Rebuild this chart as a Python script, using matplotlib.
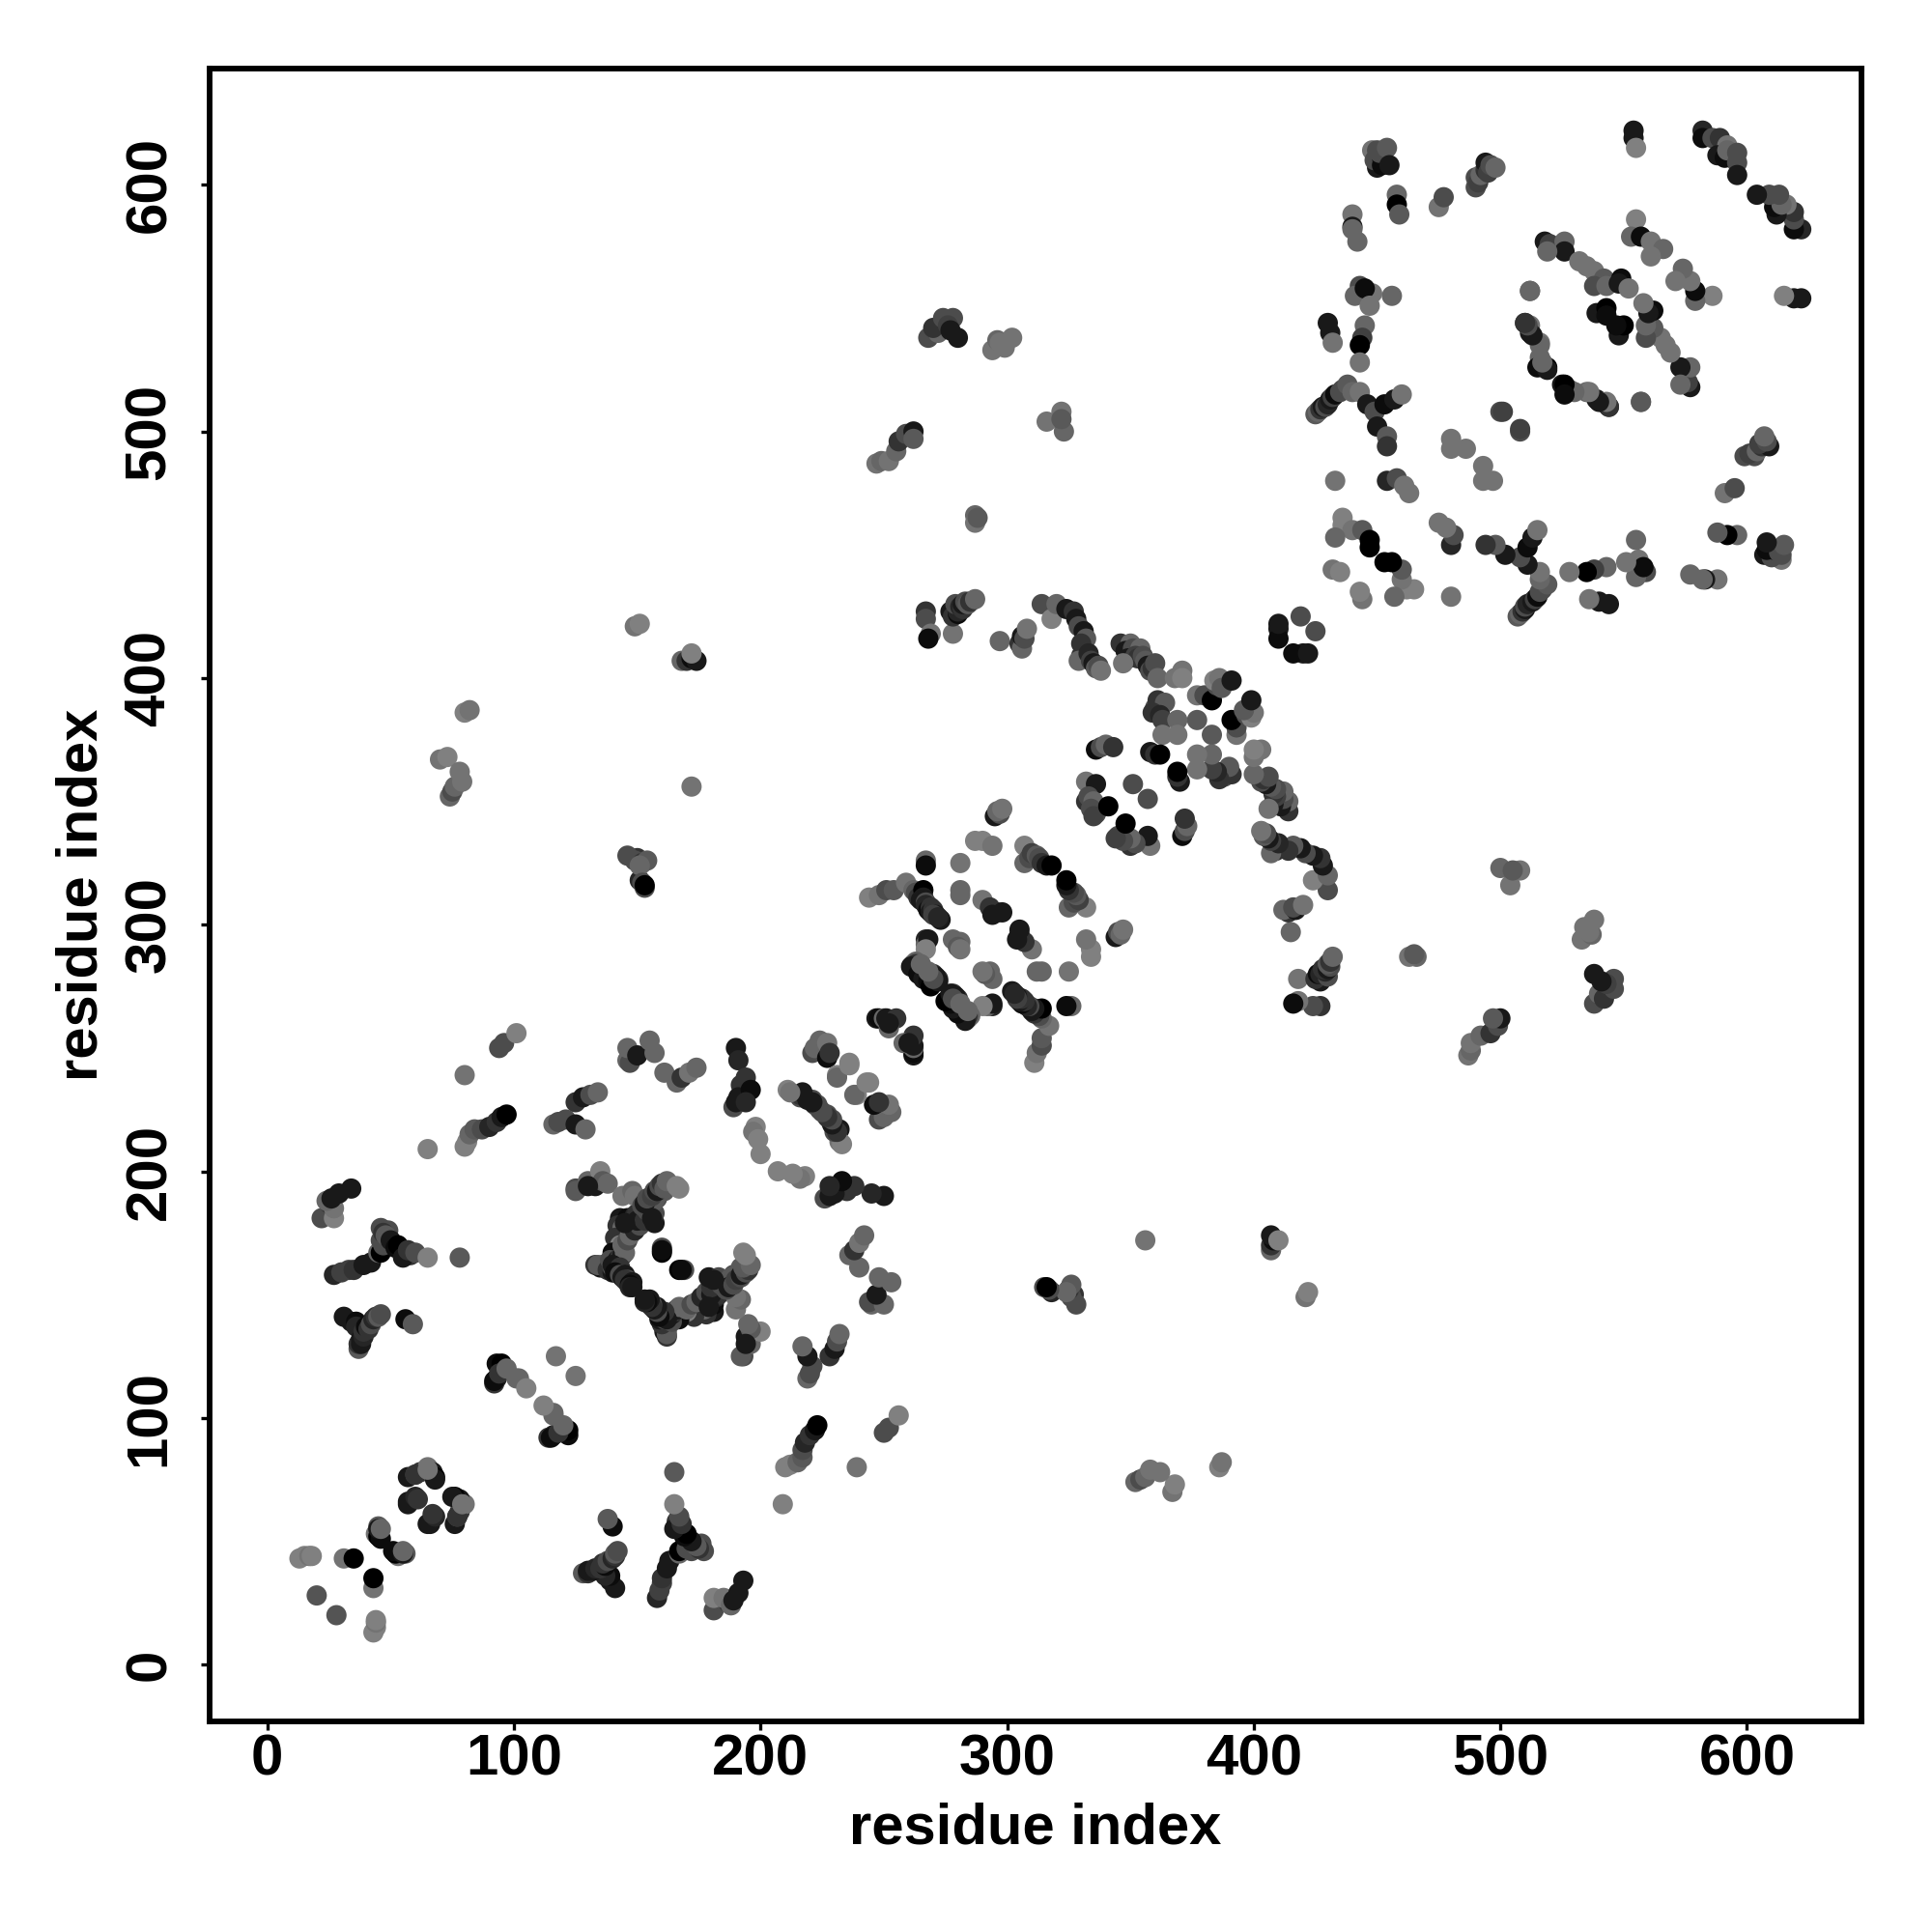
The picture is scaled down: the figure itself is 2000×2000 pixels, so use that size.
#!/usr/bin/env python3
"""Residue contact map: symmetric, so each contact (i, j, shade) is listed once with i < j."""

import matplotlib
matplotlib.use("Agg")
import matplotlib.pyplot as plt

plt.rcParams['font.family'] = ['Liberation Sans', 'DejaVu Sans']

tick_values = [0, 100, 200, 300, 400, 500, 600]

# (residue i, residue j, grey level of the dot)
contacts_low = [
    (13, 43, .5), (15, 44, .5), (17, 44, .45), (18, 44, .5), (20, 28, .33), (31, 43, .45), (35, 43, 0),
    (44, 53, .45), (45, 56, .35), (45, 52, 0), (46, 51, .05), (45, 55, .1), (46, 55, .4),
    (57, 76, .1), (60, 77, .3), (62, 78, .2), (65, 80, .45), (66, 78, .3), (67, 78, .1), (68, 76, 0),
    (57, 66, .1), (57, 65, .1), (60, 68, .15), (61, 67, .2), (68, 75, .1), (60, 77, .2), (65, 79, .45),
    (34, 139, .1), (31, 141, .1), (36, 139, .05), (36, 137, .15), (37, 128, .35), (37, 130, .2), (38, 130, .1),
    (38, 132, .1), (39, 133, .15), (39, 135, .2), (40, 137, .05), (41, 136, .2), (42, 138, .3),
    (43, 140, .15), (44, 141, .2), (45, 141, .35), (46, 142, .3), (56, 140, .05), (59, 138, .35),
    (93, 122, .05), (95, 122, 0), (93, 116, .1), (92, 114, .2), (92, 115, .05), (94, 118, .2),
    (97, 120, .4), (102, 116, .4), (101, 116, .4), (105, 112, .5), (117, 125, .45),
]

contacts_helix_a = [
    (22, 181, .3), (27, 181, .5), (25, 187, .2), (27, 185, .45), (24, 188, .4), (26, 189, .1), (29, 191, .1), (34, 193, .1),
    (27, 158, .15), (30, 159, .25), (33, 160, .25), (35, 160, .2), (39, 162, .1), (42, 163, .1),
    (45, 167, .4), (46, 167, 0), (46, 172, .3), (46, 177, .3), (49, 176, .3), (47, 170, .3),
    (47, 175, .2), (48, 174, .35), (50, 172, .1), (52, 169, .05), (56, 166, 0), (58, 166, .2),
    (53, 170, 0), (55, 165, .1), (57, 168, .2), (60, 167, .3), (65, 165, .5), (78, 165, .35),
    (65, 209, .5), (80, 210, .5), (81, 212, .5), (82, 215, .4), (84, 217, .35), (87, 217, .3),
    (90, 218, .15), (93, 220, .2), (95, 222, .1), (97, 223, 0),
    (94, 250, .3), (96, 252, .3), (101, 256, .5), (80, 239, .45),
    (116, 219, .4), (118, 220, .3), (121, 221, .3), (125, 219, .1), (129, 217, .4),
    (125, 228, .2), (128, 230, .1), (131, 231, .3), (134, 232, .4),
    (125, 193, .3), (130, 196, .4), (133, 194, .1), (135, 200, .5), (136, 196, .35), (138, 195, .4),
    (125, 192, .35), (130, 194, .1),
    (133, 162, .2), (135, 161, .1), (136, 162, .3), (134, 162, .35), (138, 160, .2), (140, 159, .1), (140, 161, .3),
]

contacts_helix_b = [
    (143, 181, .1), (146, 181, .05), (149, 182, .15), (150, 183, .2), (142, 178, .2), (144, 177, .4), (147, 178, .1),
    (141, 173, .2), (143, 170, .5), (140, 167, .05), (141, 166, .05), (139, 164, .3), (142, 164, .1),
    (143, 165, .2), (144, 166, .1), (145, 167, .4), (141, 161, .15), (140, 162, .1), (143, 161, .2),
    (141, 159, .05), (143, 158, .3), (144, 157, .1), (145, 158, .1), (146, 156, .3), (145, 156, .2),
    (146, 155, .2), (148, 155, .1), (147, 154, .05), (147, 153, .15), (148, 153, .1),
    (144, 170, .4), (146, 172, .3), (147, 174, .4), (148, 176, .4), (149, 176, .15), (151, 178, .3),
    (150, 180, .1), (153, 180, .2), (145, 179, .1), (154, 184, .3), (155, 186, .35), (156, 187, .2),
    (157, 179, .1), (157, 183, .3), (158, 189, .3), (159, 191, .35),
    (157, 188, .35), (161, 192, .35), (144, 190, .45), (148, 192, .4), (149, 190, .45),
    (152, 186, .3), (153, 187, .1), (154, 189, .3), (156, 190, .25), (157, 192, .3), (158, 192, .1), (159, 194, .3),
    (160, 195, .2), (161, 193, .35), (162, 196, .4), (166, 194, .5), (167, 193, .5),
    (156, 181, .1), (160, 169, .3), (160, 167, 0), (160, 168, .05), (151, 318, .15), (153, 315, .3), (150, 327, .2),
    (146, 245, .4), (147, 244, .3), (146, 250, .4), (150, 247, .1), (155, 253, .4), (157, 248, .4),
    (161, 240, .4), (166, 236, .4), (168, 238, .2), (171, 240, .45), (174, 242, .4),
    (190, 250, .1), (191, 245, .15), (192, 235, .2), (194, 238, .2), (191, 230, .1), (196, 233, .05),
    (189, 226, .3), (190, 228, .1), (194, 228, .15),
    (198, 218, .5), (197, 216, .45), (199, 213, .5), (200, 207, .5),
    (211, 233, .5), (216, 230, .3), (216, 231, .2), (219, 229, .1), (221, 229, .3), (222, 227, .2),
    (224, 225, .3), (227, 223, .3), (232, 217, .1), (232, 212, .45), (228, 221, .1),
    (221, 248, .3), (222, 250, .4), (224, 253, .4), (227, 252, .45), (227, 246, .05), (228, 248, .2),
    (231, 239, .5), (231, 238, .4), (236, 244, .5), (236, 243, .5),
]

contacts_helix_c = [
    (244, 311, .5), (248, 312, .45), (251, 314, .3), (254, 314, .35), (259, 317, .45), (262, 314, .4),
    (263, 313, .3), (264, 311, .2), (266, 314, 0), (266, 311, .1), (265, 310, .1), (267, 309, .3), (267, 308, .15),
    (268, 306, .05), (269, 307, .2), (269, 305, .1), (270, 306, .2), (271, 304, .1), (270, 304, .25), (273, 302, .1), (272, 303, .15),
    (267, 326, .4), (267, 324, .05), (281, 325, .45), (281, 314, .4), (281, 312, .4),
    (287, 334, .5), (290, 334, .5), (294, 332, .45), (295, 344, .1), (297, 345, .3), (296, 346, .4), (298, 347, .45),
    (307, 332, .5), (307, 325, .4), (309, 327, .3), (310, 329, .25), (312, 328, .35), (313, 327, .3),
    (314, 325, .2), (316, 324, .1), (318, 324, 0),
    (290, 310, .45), (293, 307, .2), (296, 305, .2), (294, 304, .1), (298, 305, .1),
    (267, 294, .15), (267, 292, .4), (268, 294, .1), (267, 290, .5), (278, 294, .4), (281, 293, .4), (280, 291, .35), (281, 290, .45),
    (262, 284, .3), (263, 285, .4), (263, 284, .2), (261, 283, .1), (265, 283, .25), (264, 282, .1), (265, 281, .3),
    (264, 280, .05), (266, 281, .05), (267, 281, .3), (268, 279, .25),
    (266, 278, .1), (270, 280, .2), (272, 278, .2), (271, 279, .1), (268, 277, .05), (269, 275, 0), (272, 277, .1), (270, 278, .3), (268, 281, .4), (265, 284, .4),
    (247, 262, .1), (248, 262, .05), (250, 262, .4), (251, 262, .1), (255, 262, .2), (252, 258, .4), (252, 260, .1),
]

contacts_far = [
    (80, 386, .5), (82, 387, .45), (70, 367, .45), (73, 368, .5), (74, 352, .4), (75, 354, .3),
    (76, 356, .4), (78, 362, .45), (79, 358, .45),
    (149, 421, .45), (151, 422, .5), (168, 407, .4), (170, 407, .2), (172, 408, .05), (174, 407, .1), (172, 410, .5), (172, 356, .45),
    (146, 328, .3), (149, 326, .3), (152, 325, .2), (154, 326, .35), (151, 324, .4), (152, 317, .3), (153, 316, 0),
    (268, 538, .3), (272, 540, .4), (270, 542, .2), (274, 546, .3), (278, 546, .3), (276, 543, .25), (280, 538, .1), (277, 541, .1),
    (294, 533, .45), (296, 537, .4), (297, 536, .45), (302, 538, .45), (299, 534, .45),
    (316, 504, .45), (322, 508, .45), (323, 500, .4), (322, 505, .35),
    (247, 487, .45), (249, 488, .4), (252, 488, .45), (255, 492, .4), (256, 496, .2), (259, 499, .3), (262, 500, .1), (262, 497, .35),
    (287, 466, .4), (287, 463, .45), (288, 465, .35),
]

contacts_middle = [
    (267, 427, .2), (267, 424, .3), (269, 418, .45), (268, 416, .05), (278, 418, .45), (279, 428, .1),
    (277, 427, .1), (278, 425, .2), (280, 426, .05), (280, 427, .15), (279, 430, .3), (281, 429, .15), (282, 428, .2), (282, 430, .1),
    (283, 431, .3), (284, 430, .35), (285, 431, .2), (287, 432, .4),
    (297, 415, .4), (305, 414, .2), (306, 412, .4), (306, 417, .1), (307, 416, .3), (308, 420, .45),
    (314, 430, .3), (318, 424, .5), (320, 430, .4), (324, 428, .1), (327, 427, .2), (328, 424, .1), (329, 421, .3),
    (331, 419, .1), (332, 416, .35), (330, 414, .2), (330, 409, .2), (329, 407, .4), (332, 408, .4), (333, 410, .15),
    (334, 407, .25), (335, 406, .1), (336, 404, .35), (337, 405, .3), (338, 403, .45),
    (346, 414, .2), (350, 414, .4), (348, 411, .1), (351, 412, .3), (354, 412, .4), (349, 408, .1), (352, 409, .25), (353, 408, .2), (347, 406, .45),
    (355, 409, .3), (356, 407, .35), (357, 405, .1), (358, 403, .3), (359, 404, .2), (360, 406, .3), (361, 400, .4), (368, 400, .45), (371, 403, .45), (371, 400, .5),
    (377, 393, .45), (380, 393, .3), (383, 391, 0), (385, 397, .3), (384, 399, .5), (386, 400, .45), (387, 396, .35), (391, 399, .1), (377, 383, .35),
    (360, 388, .3), (361, 391, .2), (364, 390, .35), (359, 386, .2), (362, 385, .15), (363, 383, .25), (369, 383, .4), (363, 377, .45), (369, 377, .45),
    (336, 371, .05), (338, 372, .3), (340, 373, .4), (343, 372, .2), (358, 370, .1), (360, 369, .2), (362, 369, 0),
    (332, 358, .45), (336, 357, .1), (332, 350, .2), (333, 352, .3), (335, 350, .4), (334, 347, .3),
    (336, 345, .3), (335, 344, .25), (341, 348, 0), (351, 357, .3),
    (410, 420, .1), (410, 416, .05), (410, 422, .1), (419, 425, .3),
]

contacts_high_a = [
    (425, 507, .35), (426, 508, .4), (427, 509, .2), (428, 510, .1), (429, 510, .3), (430, 511, .15), (431, 513, .1),
    (432, 514, .25), (433, 515, .05), (435, 516, .3), (436, 517, .3), (438, 519, .35), (440, 516, .4), (443, 516, .45),
    (446, 511, .1), (449, 508, .3), (453, 511, .05), (457, 513, .1), (460, 515, .45),
    (450, 502, .1), (454, 498, .35), (454, 494, .2), (480, 497, .45), (480, 493, .45), (486, 493, .45),
    (433, 480, .45), (454, 480, .15), (458, 481, .3), (461, 478, .45), (463, 475, .45),
    (436, 465, .5), (436, 462, .5), (440, 460, .45), (444, 460, .35), (433, 457, .4), (447, 456, 0), (447, 453, 0),
    (432, 444, .45), (435, 443, .5),
    (430, 544, .1), (431, 540, .1), (432, 536, .45), (445, 543, .4), (444, 538, .25), (443, 535, 0), (443, 528, .45),
    (443, 559, .3), (441, 555, .4), (448, 556, .45), (445, 558, .05), (456, 555, .4), (447, 551, .45),
    (440, 588, .45), (440, 583, .1), (442, 577, .4), (440, 582, .4),
    (448, 614, .45), (450, 607, .1), (449, 610, .3), (452, 611, .05), (453, 609, .2), (452, 608, .05), (450, 614, .3), (451, 613, .3), (454, 615, .35), (455, 608, .1),
    (458, 596, .4), (458, 592, 0), (459, 588, .35), (475, 591, .45), (477, 595, .3),
    (490, 599, .3), (490, 603, .3), (491, 601, .25), (492, 604, .4), (494, 606, .2), (494, 609, .1), (495, 605, .25), (496, 608, .3), (498, 607, .4),
]

contacts_high_b = [
    (554, 619, .1), (554, 622, .1), (555, 615, .5),
    (582, 622, .15), (582, 619, .05), (586, 619, .3), (589, 619, .2), (592, 616, .45), (588, 612, .1),
    (591, 611, .05), (592, 614, .4), (596, 613, .3), (596, 609, .3), (596, 604, .1),
    (518, 577, .1), (520, 576, .25), (526, 577, .4), (526, 573, .1), (519, 573, .4),
    (532, 569, .45), (535, 567, .45), (538, 565, .45), (542, 562, .35), (538, 559, .3), (543, 559, .4),
    (549, 562, .05), (548, 560, .1), (552, 558, .45),
    (555, 586, .5), (553, 579, .4), (557, 579, .05), (561, 577, .45), (566, 574, .4), (561, 571, .45),
    (539, 548, .1), (543, 550, 0), (543, 547, .05),
    (510, 544, .2), (512, 543, .45), (512, 540, .1), (516, 536, .45), (516, 530, .4), (519, 526, 0),
    (515, 526, .05), (525, 519, .1), (528, 517, .4), (535, 516, .4), (539, 513, .1), (543, 511, .3), (544, 510, .2),
    (557, 512, .4), (512, 557, .35), (500, 508, .3), (501, 508, .25),
]

all_contacts = (contacts_low + contacts_helix_a + contacts_helix_b + contacts_helix_c
                + contacts_far + contacts_middle + contacts_high_a + contacts_high_b)
res_i = [c[0] for c in all_contacts]
res_j = [c[1] for c in all_contacts]
shade = [c[2] for c in all_contacts]

fig = plt.figure(figsize=(10, 10), dpi=200)
ax = fig.add_axes([0.1084, 0.1091, 0.8552, 0.8552])

# both triangles of the map
ax.scatter(res_i + res_j, res_j + res_i, c=shade + shade, cmap='gray', vmin=0, vmax=1,
           s=57, linewidths=0, zorder=3)

ax.set_xlim(-23.5, 646.5)
ax.set_ylim(-23, 647)
ax.set_xticks(tick_values)
ax.set_yticks(tick_values)
for side in ax.spines.values():
    side.set_linewidth(2.1)

ax.tick_params(axis='both', length=3.2, width=1.2, labelsize=21.6)
ax.tick_params(axis='x', pad=1.5)
ax.tick_params(axis='y', pad=9)
for lab in ax.get_xticklabels():
    lab.set_fontweight('bold')
for lab in ax.get_yticklabels():
    lab.set_fontweight('bold')
    lab.set_rotation(90)
    lab.set_va('center')

ax.set_xlabel('residue index', fontsize=21.5, fontweight='bold', labelpad=5.5)
ax.set_ylabel('residue index', fontsize=21.5, fontweight='bold', labelpad=5.5)

fig.savefig('out.png', dpi=200)
plt.close(fig)
